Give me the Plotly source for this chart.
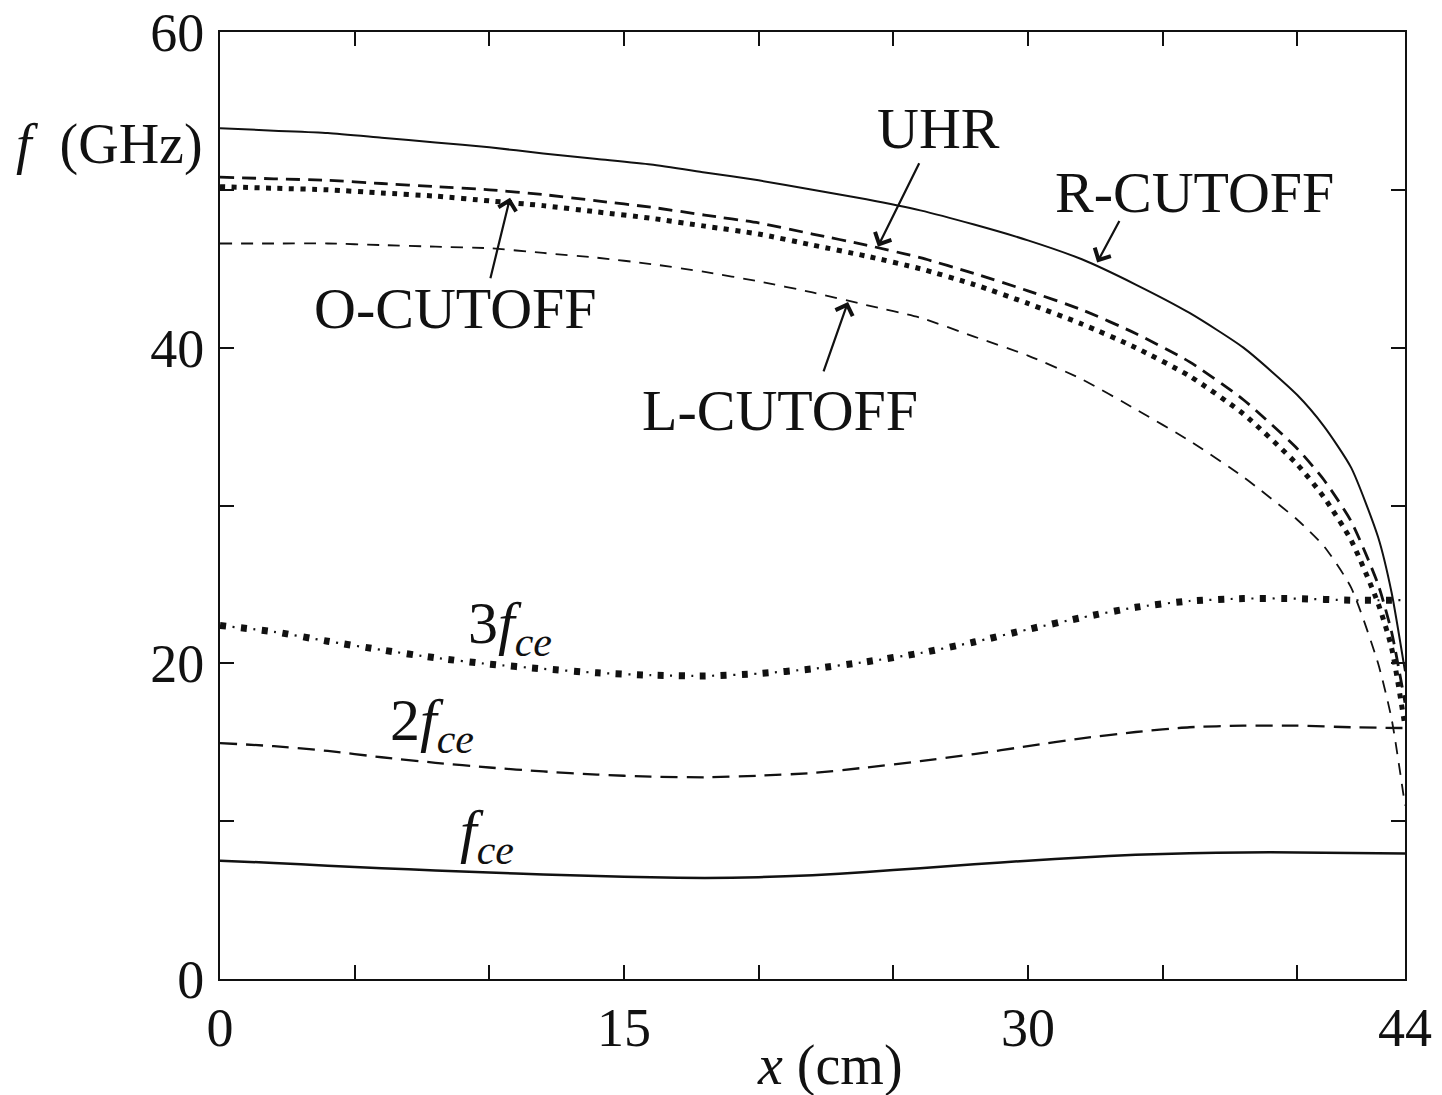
import plotly.graph_objects as go

# ---- data ----
x_cut = [0, 2, 4, 6, 8, 10, 12, 14, 16, 18, 20, 22, 24, 26, 28, 30, 32, 34, 36, 38, 40, 41, 42, 43, 43.5, 44]
r_cutoff = [53.9, 53.75, 53.6, 53.3, 53.0, 52.7, 52.3, 51.95, 51.6, 51.1, 50.6, 50.0, 49.4, 48.7, 47.8, 46.8,
            45.6, 44.0, 42.2, 40.0, 37.0, 35.0, 32.4, 28.0, 24.5, 19.5]
uhr = [50.8, 50.7, 50.6, 50.4, 50.2, 50.0, 49.7, 49.3, 48.9, 48.4, 47.9, 47.2, 46.5, 45.7, 44.7, 43.6,
       42.4, 40.9, 39.1, 36.7, 33.6, 31.6, 29.0, 25.0, 22.0, 17.5]
o_cutoff = [50.2, 50.1, 50.0, 49.8, 49.6, 49.3, 49.0, 48.6, 48.2, 47.7, 47.2, 46.5, 45.8, 45.0, 44.0, 42.8,
            41.5, 40.0, 38.2, 35.8, 32.6, 30.5, 27.8, 23.8, 21.0, 16.0]
l_cutoff = [46.6, 46.6, 46.6, 46.5, 46.4, 46.3, 46.0, 45.7, 45.3, 44.8, 44.2, 43.5, 42.7, 41.9, 40.7, 39.5,
            38.0, 36.1, 34.1, 31.8, 29.1, 27.4, 24.8, 20.0, 16.5, 11.0]

x_ce = [0, 2, 4, 6, 8, 10, 12, 14, 16, 18, 20, 22, 24, 26, 28, 30, 32, 34, 36, 38, 40, 42, 44]
f_ce = [7.50, 7.35, 7.18, 7.02, 6.88, 6.75, 6.62, 6.52, 6.45, 6.40, 6.45, 6.58, 6.78, 7.02, 7.27, 7.50,
        7.70, 7.87, 7.97, 8.02, 8.02, 7.98, 7.95]
f2_ce = [14.95, 14.75, 14.45, 14.05, 13.70, 13.40, 13.15, 12.95, 12.82, 12.78, 12.88, 13.05, 13.40, 13.80,
         14.25, 14.75, 15.25, 15.65, 15.95, 16.05, 16.05, 15.95, 15.90]
f3_ce = [22.4, 22.0, 21.4, 20.85, 20.35, 19.95, 19.65, 19.4, 19.25, 19.2, 19.35, 19.65, 20.1, 20.65, 21.35,
         22.15, 22.9, 23.55, 23.95, 24.1, 24.1, 24.0, 24.0]

x_tickvals = [0, 5, 10, 15, 20, 25, 30, 35, 40, 44]
x_ticktext = ["0", "", "", "15", "", "", "30", "", "", "44"]
y_tickvals = [0, 10, 20, 30, 40, 50, 60]
y_ticktext = ["0", "", "20", "", "40", "", "60"]

FONT = "Liberation Serif"
BLACK = "#111111"

fig = go.Figure()

def add(x, y, width, dash, cap=None):
    fig.add_trace(go.Scatter(x=x, y=y, mode="lines",
                             line=dict(color=BLACK, width=width, dash=dash, shape="spline", smoothing=0.6),
                             showlegend=False, hoverinfo="skip"))

add(x_cut, r_cutoff, 2, "solid")
add(x_cut, l_cutoff, 1.8, "12px,9px")
add(x_cut, uhr, 2.8, "14px,8px")
add(x_cut, o_cutoff, 5, "5px,6.5px")
add(x_ce, f_ce, 2.5, "solid")
add(x_ce, f2_ce, 2.3, "17px,9px")
add(x_ce, f3_ce, 7, "6px,15px")
add(x_ce, f3_ce, 2.2, "0px,12.5px,2px,6.5px")

ann_font = dict(family=FONT, size=58, color=BLACK)
sub_font = dict(family=FONT, size=60, color=BLACK)
texts = [
    ("UHR", 26.66, 53.9, ann_font),
    ("R-CUTOFF", 36.2, 49.8, ann_font),
    ("O-CUTOFF", 8.73, 42.5, ann_font),
    ("L-CUTOFF", 20.8, 36.0, ann_font),
    ("3<i>f</i><sub><i>ce</i></sub>", 10.77, 22.3, sub_font),
    ("2<i>f</i><sub><i>ce</i></sub>", 7.87, 16.1, sub_font),
    ("<i>f</i><sub><i>ce</i></sub>", 9.9, 9.1, sub_font),
]
for t, x, y, fnt in texts:
    fig.add_annotation(x=x, y=y, xref="x", yref="y", text=t, showarrow=False, font=fnt,
                       xanchor="center", yanchor="middle")

arrows = [
    (24.43, 46.4, 42, -85),
    (32.57, 45.4, 23, -43),
    (10.77, 49.5, -20, 82),
    (23.32, 42.9, -25, 71),
]
for x, y, ax, ay in arrows:
    fig.add_annotation(x=x, y=y, xref="x", yref="y", ax=ax, ay=ay, text="", showarrow=True,
                       arrowhead=4, arrowsize=1.6, arrowwidth=2.2, arrowcolor=BLACK, standoff=0)

fig.add_annotation(x=-0.093, y=0.881, xref="paper", yref="paper", showarrow=False,
                   xanchor="center", yanchor="middle",
                   text="<i>f</i>&nbsp; (GHz)", font=dict(family=FONT, size=56, color=BLACK))
fig.add_annotation(x=0.515, y=-0.091, xref="paper", yref="paper", showarrow=False,
                   xanchor="center", yanchor="middle",
                   text="<i>x</i> (cm)", font=dict(family=FONT, size=56, color=BLACK))

axis_common = dict(showline=True, linecolor=BLACK, linewidth=2, mirror="ticks", ticks="inside",
                   ticklen=14, tickwidth=2, tickcolor=BLACK, showgrid=False, zeroline=False,
                   automargin=False, tickfont=dict(family=FONT, size=54, color=BLACK))
fig.update_xaxes(range=[0, 44], tickmode="array", tickvals=x_tickvals, ticktext=x_ticktext,
                 ticklabelstandoff=0, **axis_common)
fig.update_yaxes(range=[0, 60], tickmode="array", tickvals=y_tickvals, ticktext=y_ticktext,
                 ticklabelstandoff=3, **axis_common)

fig.update_layout(width=1442, height=1095, margin=dict(l=220, r=37, t=32, b=116),
                  paper_bgcolor="white", plot_bgcolor="white")

fig.write_html("out.html", config={"displayModeBar": False},
               post_script="document.body.style.margin='0';document.body.style.overflow='hidden';")
